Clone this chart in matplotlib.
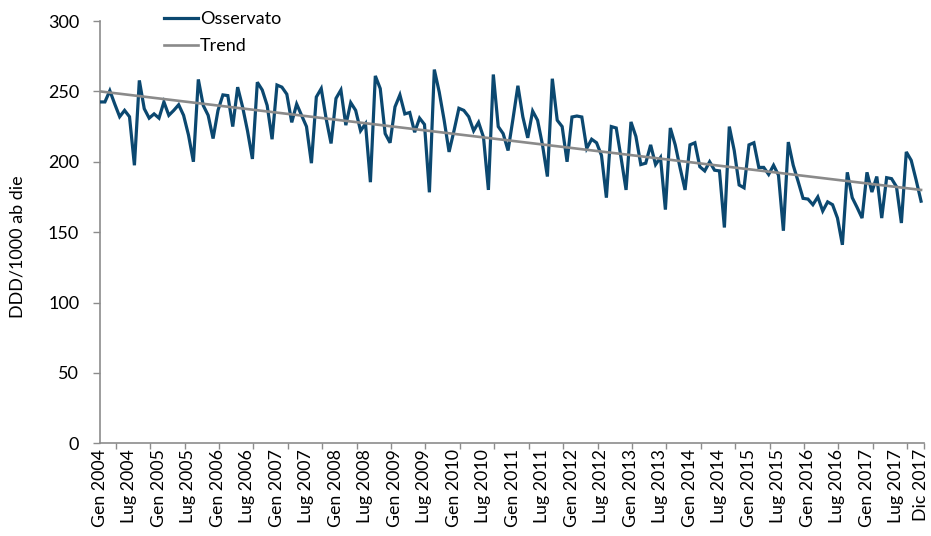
import matplotlib
matplotlib.use("Agg")
import matplotlib.pyplot as plt
import numpy as np

plt.rcParams['font.family'] = ['Lato', 'DejaVu Sans']

# Monthly observed values, Gen 2004 .. Dic 2017
osservato = [
    242.5, 242.5, 250.5, 241, 232, 236.5, 232, 197.5, 257.8, 237.7, 231, 234,
    231, 242.5, 233, 236.5, 240.5, 233, 219, 200, 258.5, 240, 233, 216.5,
    236.5, 247.5, 247, 225, 253, 239, 222, 202, 256.5, 251, 240, 216,
    254.5, 253, 248, 228, 241, 233, 225, 199, 246, 252, 230.5, 213,
    245, 251, 226, 242, 236.5, 222, 227, 185.5, 261, 252, 220, 213.5,
    239, 247.5, 234, 235, 221, 231, 226.5, 178.3, 265.5, 249.5, 229.5, 207,
    222, 238, 236.5, 232, 222, 228, 217.5, 180, 262, 225, 220, 208,
    230.5, 254, 232, 217, 236, 229.5, 212, 189.5, 259, 229.5, 225, 200,
    231.8, 232.5, 231.8, 209.5, 216, 213.5, 204.5, 174.5, 225, 224, 202.5, 180,
    228.3, 218, 198, 199, 212, 198, 203, 166, 224, 212, 195.5, 180,
    212, 213.5, 196.5, 193.5, 200, 194, 193.5, 153.3, 225, 208, 183.5, 181.5,
    212, 213.5, 196, 196, 191, 197.5, 190.5, 151, 214, 197.5, 186, 174,
    173.5, 169.5, 175, 165, 171.5, 169.5, 160, 141, 192.5, 174.5, 167.5, 160,
    192.5, 178.5, 189.5, 160, 188.7, 188, 182.3, 156.5, 207, 201, 187, 172,
]
trend_start = 250.0
trend_end = 180.0

tick_labels = [
    "Gen 2004", "Lug 2004", "Gen 2005", "Lug 2005", "Gen 2006", "Lug 2006",
    "Gen 2007", "Lug 2007", "Gen 2008", "Lug 2008", "Gen 2009", "Lug 2009",
    "Gen 2010", "Lug 2010", "Gen 2011", "Lug 2011", "Gen 2012", "Lug 2012",
    "Gen 2013", "Lug 2013", "Gen 2014", "Lug 2014", "Gen 2015", "Lug 2015",
    "Gen 2016", "Lug 2016", "Gen 2017", "Lug 2017", "Dic 2017",
]

n = len(osservato)
x = np.arange(n)
trend = np.linspace(trend_start, trend_end, n)

fig = plt.figure(figsize=(9.31, 5.36), dpi=100)
ax = fig.add_axes([100/931, 1 - 443.3/536, (924-100)/931, (443.3-21)/536])

blue = '#0b4870'
grey = '#8a8a8a'
ax.plot(x, osservato, color=blue, lw=2.3, label='Osservato', solid_joinstyle='miter', zorder=3)
ax.plot(x, trend, color=grey, lw=1.9, label='Trend', zorder=4)

ax.set_xlim(0, 167.6)
ax.set_ylim(0, 300)
ax.set_yticks(np.arange(0, 301, 50))

label_pos = list(range(0, n - 1, 6)) + [n - 1]
ax.set_xticks(label_pos)
ax.set_xticklabels(tick_labels, rotation=90, fontsize=12.8)
ax.tick_params(axis='x', which='major', length=0, pad=4)
minor_pos = [3.2 + 7 * k for k in range(24)] + [167.6]
ax.set_xticks(minor_pos, minor=True)
ax.tick_params(axis='x', which='minor', length=4, color='#8c8c8c', width=1)
ax.tick_params(axis='y', length=5, color='#8c8c8c', width=1, labelsize=13, pad=10)

for s in ['top', 'right']:
    ax.spines[s].set_visible(False)
for s in ['left', 'bottom']:
    ax.spines[s].set_color('#8c8c8c')
    ax.spines[s].set_linewidth(1.2)

ax.set_ylabel('DDD/1000 ab die', fontsize=13)
ax.yaxis.set_label_coords(-0.091, 0.465)

leg = ax.legend(loc='upper left', bbox_to_anchor=(0.058, 1.062), frameon=False,
                fontsize=13, handlelength=1.9, handletextpad=0.1, labelspacing=0.6)

fig.savefig('out.png', dpi=100)
